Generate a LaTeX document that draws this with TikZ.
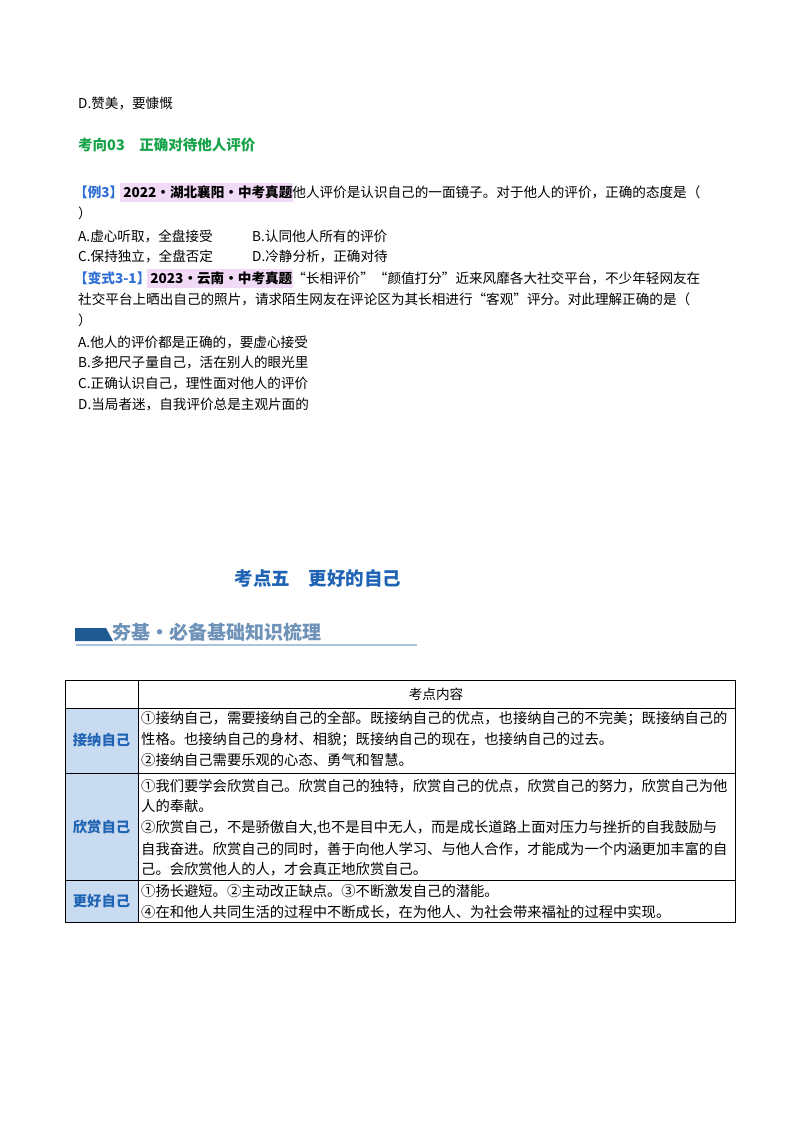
\documentclass[tikz,border=0pt]{standalone}
\usepackage{fontspec}
\setmainfont{Noto Sans CJK SC}
\definecolor{exblue}{HTML}{2F6FD6}
\definecolor{hl}{HTML}{F1DAF6}
\definecolor{kgreen}{HTML}{17A34A}
\definecolor{kblue}{HTML}{1F63B5}
\definecolor{cellbg}{HTML}{C9DBF0}
\definecolor{bandark}{HTML}{1F5A93}
\definecolor{bantext}{HTML}{6F93B8}
\definecolor{banline}{HTML}{A9C4DA}
\begin{document}
\begin{tikzpicture}[x=1pt,y=-1pt,
  txt/.style={anchor=west,inner sep=0pt,font=\fontsize{13.6}{14}\selectfont},
  tt/.style={anchor=west,inner sep=0pt,font=\fontsize{14.3}{15}\selectfont},
  lab/.style={font=\fontsize{14.3}{15}\selectfont\bfseries,text=kblue}]
\useasboundingbox (0,0) rectangle (800,1132);
\fill[white] (0,0) rectangle (800,1132);
\node[txt] (d0) at (78,103) {D.赞美，要慷慨};
\node[anchor=west,inner sep=0pt,font=\fontsize{14.5}{15}\selectfont\bfseries,text=kgreen] (h1) at (78,145) {考向03\quad 正确对待他人评价};
\fill[hl] (120,183) rectangle (293,202);
\node[txt] (e1) at (74,192) {\textcolor{exblue}{\bfseries【例3】}\textbf{2022·湖北襄阳·中考真题}他人评价是认识自己的一面镜子。对于他人的评价，正确的态度是（};
\node[txt] (e2) at (78,213) {）};
\node[txt] (e3) at (78,236) {A.虚心听取，全盘接受};
\node[txt] (e3b) at (252,236) {B.认同他人所有的评价};
\node[txt] (e4) at (78,256) {C.保持独立，全盘否定};
\node[txt] (e4b) at (252,256) {D.冷静分析，正确对待};
\fill[hl] (147,269) rectangle (293,288);
\node[txt] (v1) at (74,278) {\textcolor{exblue}{\bfseries【变式3-1】}\textbf{2023·云南·中考真题}“长相评价”“颜值打分”近来风靡各大社交平台，不少年轻网友在};
\node[txt] (v2) at (78,299) {社交平台上晒出自己的照片，请求陌生网友在评论区为其长相进行“客观”评分。对此理解正确的是（};
\node[txt] (v3) at (78,320) {）};
\node[txt] (v4) at (78,342) {A.他人的评价都是正确的，要虚心接受};
\node[txt] (v5) at (78,362) {B.多把尺子量自己，活在别人的眼光里};
\node[txt] (v6) at (78,383) {C.正确认识自己，理性面对他人的评价};
\node[txt] (v7) at (78,404) {D.当局者迷，自我评价总是主观片面的};
\node[font=\fontsize{18.5}{19}\selectfont\bfseries,text=kblue] (title) at (318,578) {考点五\quad 更好的自己};
\fill[bandark] (75,628) -- (106,628) -- (113,641) -- (75,641) -- cycle;
\draw[banline,line width=1.2pt] (76,645) -- (417,645);
\node[anchor=west,inner sep=0pt,font=\fontsize{19}{20}\selectfont\bfseries,text=bantext] (ban) at (112,632) {夯基·必备基础知识梳理};
% table
\fill[cellbg] (65,708) rectangle (138,922);
\draw[line width=0.8pt] (65,680) rectangle (735,922);
\draw (138,680) -- (138,922);
\draw (65,708) -- (735,708);
\draw (65,773) -- (735,773);
\draw (65,880) -- (735,880);
\node[font=\fontsize{13.6}{14}\selectfont] (hd) at (436,694) {考点内容};
\node[lab] (l1) at (101.5,740) {接纳自己};
\node[lab] (l2) at (101.5,827) {欣赏自己};
\node[lab] (l3) at (101.5,901) {更好自己};
\node[tt] (r1a) at (141,719) {①接纳自己，需要接纳自己的全部。既接纳自己的优点，也接纳自己的不完美；既接纳自己的};
\node[tt] (r1b) at (141,740) {性格。也接纳自己的身材、相貌；既接纳自己的现在，也接纳自己的过去。};
\node[tt] (r1c) at (141,760) {②接纳自己需要乐观的心态、勇气和智慧。};
\node[tt] (r2a) at (141,786) {①我们要学会欣赏自己。欣赏自己的独特，欣赏自己的优点，欣赏自己的努力，欣赏自己为他};
\node[tt] (r2b) at (141,806) {人的奉献。};
\node[tt] (r2c) at (141,828) {②欣赏自己，不是骄傲自大,也不是目中无人，而是成长道路上面对压力与挫折的自我鼓励与};
\node[tt] (r2d) at (141,849) {自我奋进。欣赏自己的同时，善于向他人学习、与他人合作，才能成为一个内涵更加丰富的自};
\node[tt] (r2e) at (141,869) {己。会欣赏他人的人，才会真正地欣赏自己。};
\node[tt] (r3a) at (141,891) {①扬长避短。②主动改正缺点。③不断激发自己的潜能。};
\node[tt] (r3b) at (141,912) {④在和他人共同生活的过程中不断成长，在为他人、为社会带来福祉的过程中实现。};
\end{tikzpicture}
\end{document}
